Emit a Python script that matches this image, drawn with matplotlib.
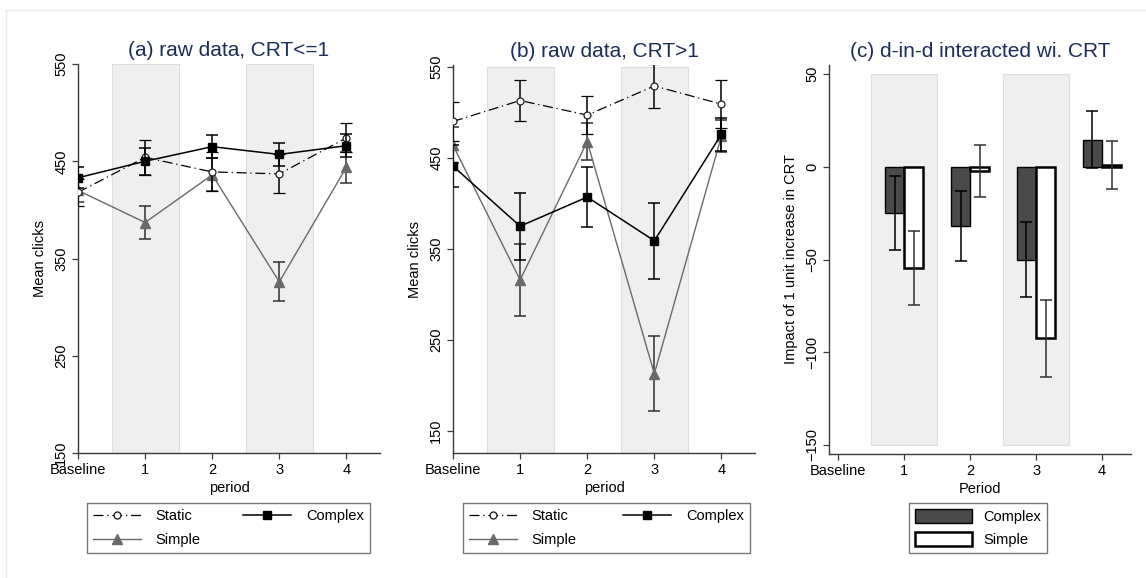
import matplotlib
matplotlib.use("Agg")
import matplotlib.pyplot as plt
from matplotlib.lines import Line2D
from matplotlib.patches import Patch

plt.rcParams['font.family'] = ['Liberation Sans', 'DejaVu Sans']

# periods on the x axis
periods = [0, 1, 2, 3, 4]
period_labels = ["Baseline", "1", "2", "3", "4"]

# (a) raw data, CRT<=1 : mean clicks and half-width of the error bars
a_static = [418, 454, 439, 437, 474]
a_static_err = [14, 18, 20, 20, 15]
a_complex = [433, 450, 465, 457, 466]
a_complex_err = [11, 14, 12, 12, 12]
a_simple = [420, 387, 436, 326, 444]
a_simple_err = [12, 17, 17, 20, 16]

# (b) raw data, CRT>1
b_static = [490, 513, 497, 529, 509]
b_static_err = [21, 23, 21, 24, 26]
b_complex = [441, 375, 407, 359, 476]
b_complex_err = [23, 37, 33, 42, 18]
b_simple = [464, 316, 468, 213, 474]
b_simple_err = [20, 40, 20, 41, 18]

# (c) d-in-d interacted with CRT, periods 1-4
c_periods = [1, 2, 3, 4]
c_complex = [-24.7, -31.9, -50.0, 14.7]
c_complex_err = [20, 19, 20, 15.5]
c_simple = [-54.6, -2.2, -92.6, 1.0]
c_simple_err = [20, 14, 21, 13]

W, H = 1146, 578
TITLE_COL = "#1c2d5a"
SHADE = "#efefef"
SPINE = "#3a3a3a"
FS = 10.5

fig = plt.figure(figsize=(W / 100, H / 100), dpi=100)
fig.patch.set_facecolor("white")


def px_axes(left, top, right, bottom):
    return fig.add_axes([left / W, 1 - bottom / H, (right - left) / W, (bottom - top) / H])


def style_axes(ax, ylab, xlab):
    for s in ["top", "right"]:
        ax.spines[s].set_visible(False)
    for s in ["left", "bottom"]:
        ax.spines[s].set_color(SPINE)
        ax.spines[s].set_linewidth(1.0)
    ax.tick_params(direction="out", length=4, width=0.9, color=SPINE, labelsize=FS, pad=3)
    ax.set_xticks(periods)
    ax.set_xticklabels(period_labels)
    for lab in ax.get_yticklabels():
        lab.set_rotation(90)
        lab.set_va("center")
    ax.set_ylabel(ylab, fontsize=FS, labelpad=5)
    ax.set_xlabel(xlab, fontsize=FS, labelpad=3)


def shade(ax, lo, hi):
    for c in [1, 3]:
        ax.fill_between([c - 0.5, c + 0.5], lo, hi, color=SHADE, edgecolor="#dedede",
                        linewidth=0.8, zorder=0)


def raw_panel(ax, static, static_err, complex_, complex_err, simple, simple_err, title):
    ax.errorbar(periods, simple, yerr=simple_err, color="#6a6a6a", ecolor="#303030",
                elinewidth=1.1, capsize=4, capthick=1.1, marker="^", ms=6.5,
                mfc="#6a6a6a", mec="#6a6a6a", lw=1.0, zorder=3, label="Simple")
    ax.errorbar(periods, static, yerr=static_err, color="black", ecolor="black",
                elinewidth=1.1, capsize=4, capthick=1.1, marker="o", ms=5,
                mfc="white", mec="#222222", mew=0.9, lw=0.9, dashes=(8, 3, 1, 3),
                zorder=4, label="Static")
    ax.errorbar(periods, complex_, yerr=complex_err, color="black", ecolor="black",
                elinewidth=1.1, capsize=4, capthick=1.1, marker="s", ms=6,
                mfc="black", mec="black", lw=1.1, zorder=5, label="Complex")
    ax.set_xlim(0, 4.5)
    ax.set_yticks([150, 250, 350, 450, 550])
    ax.set_title(title, fontsize=15, color=TITLE_COL, pad=6)


def line_legend(ax, x0, x1):
    handles = [
        Line2D([], [], color="black", lw=0.9, dashes=(8, 3, 1, 3), marker="o", ms=5,
               mfc="white", mec="#222222"),
        Line2D([], [], color="#6a6a6a", lw=1.0, marker="^", ms=6.5, mfc="#6a6a6a", mec="#6a6a6a"),
        Line2D([], [], color="black", lw=1.1, marker="s", ms=6, mfc="black", mec="black"),
    ]
    labels = ["Static", "Simple", "Complex"]
    leg = ax.legend(handles, labels, ncol=2, loc="upper left", mode="expand",
                    bbox_to_anchor=(x0 / W, 1 - 503 / H, (x1 - x0) / W, 0),
                    bbox_transform=fig.transFigure, fontsize=FS, frameon=True,
                    fancybox=False, edgecolor="#555555", handlelength=3.3,
                    labelspacing=0.68, borderpad=0.42, handletextpad=1.0,
                    borderaxespad=0)
    leg.get_frame().set_linewidth(1.0)


# panel (a)
ax1 = px_axes(78, 64, 380, 453)
shade(ax1, 150, 550)
raw_panel(ax1, a_static, a_static_err, a_complex, a_complex_err, a_simple, a_simple_err,
          "(a) raw data, CRT<=1")
ax1.set_ylim(150, 550)
style_axes(ax1, "Mean clicks", "period")
line_legend(ax1, 87, 370)

# panel (b)
ax2 = px_axes(453, 65, 755, 453)
shade(ax2, 126, 550)
raw_panel(ax2, b_static, b_static_err, b_complex, b_complex_err, b_simple, b_simple_err,
          "(b) raw data, CRT>1")
ax2.set_ylim(126, 552)
style_axes(ax2, "Mean clicks", "period")
line_legend(ax2, 463, 750)

# panel (c)
ax3 = px_axes(829, 65, 1131, 454)
for c in [1, 3]:
    ax3.fill_between([c - 0.5, c + 0.5], -150, 50, color=SHADE, edgecolor="#dedede",
                     linewidth=0.8, zorder=0)
bw = 0.29
xc = [p - bw / 2 for p in c_periods]
xs = [p + bw / 2 for p in c_periods]
ax3.bar(xc, c_complex, width=bw, color="#4a4a4a", edgecolor="black", linewidth=1.0, zorder=2)
ax3.bar(xs, c_simple, width=bw, color="white", edgecolor="black", linewidth=1.8, zorder=2)
ax3.errorbar(xc, c_complex, yerr=c_complex_err, fmt="none", ecolor="black",
             elinewidth=1.1, capsize=4, capthick=1.1, zorder=3)
ax3.errorbar(xs, c_simple, yerr=c_simple_err, fmt="none", ecolor="#303030",
             elinewidth=1.1, capsize=4, capthick=1.1, zorder=3)
ax3.set_xlim(-0.14, 4.44)
ax3.set_ylim(-155, 55)
ax3.set_yticks([-150, -100, -50, 0, 50])
ax3.set_title("(c) d-in-d interacted wi. CRT", fontsize=15, color=TITLE_COL, pad=6)
style_axes(ax3, "Impact of 1 unit increase in CRT", "Period")
leg3 = ax3.legend([Patch(facecolor="#4a4a4a", edgecolor="black", linewidth=1.0),
                   Patch(facecolor="white", edgecolor="black", linewidth=1.8)],
                  ["Complex", "Simple"], loc="upper left",
                  bbox_to_anchor=(909 / W, 1 - 503 / H), bbox_transform=fig.transFigure,
                  fontsize=FS, frameon=True, fancybox=False, edgecolor="#555555",
                  handlelength=3.9, handleheight=1.1, labelspacing=0.55,
                  borderpad=0.4, handletextpad=0.8, borderaxespad=0)
leg3.get_frame().set_linewidth(1.0)

# faint outer frame
fig.add_artist(Line2D([6 / W, 6 / W], [0, 1 - 10 / H], transform=fig.transFigure,
                      color="#e4ecee", lw=1.0))
fig.add_artist(Line2D([6 / W, 1], [1 - 10 / H, 1 - 10 / H], transform=fig.transFigure,
                      color="#e4ecee", lw=1.0))

fig.savefig("out.png", dpi=100, facecolor="white")
